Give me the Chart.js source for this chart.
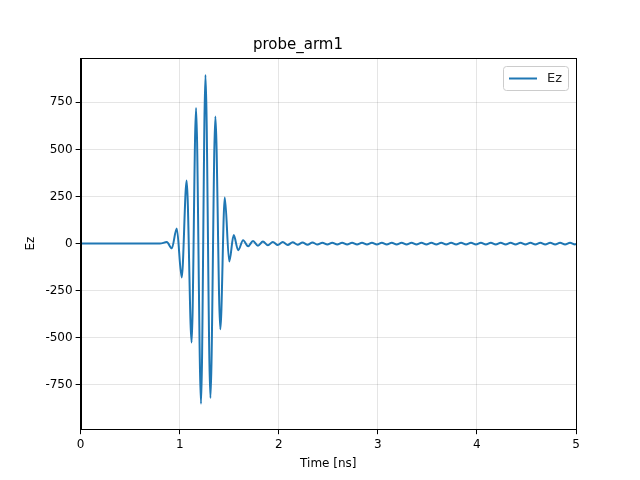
<!DOCTYPE html>
<html><head><meta charset="utf-8">
<script src="https://cdn.jsdelivr.net/npm/chart.js"></script>
<style>html,body{margin:0;padding:0;background:#fff}#w{width:640px;height:480px}</style>
</head><body><div id="w"><canvas id="c"></canvas></div>
<script>
const seriesLabel = "Ez";
const chartTitle = "probe_arm1";
const xTitle = "Time [ns]";
const yTitle = "Ez";
const yTicks = [-750,-500,-250,0,250,500,750];
const xTicks = [0,1,2,3,4,5];
const times = [0,0.80,0.87,0.92,0.97,1.02,1.07,1.12,1.165,1.215,1.26,1.31,1.36,1.41,1.455,1.50,1.545,1.59,
1.64,1.69,1.74,1.79,1.84,1.89,1.94,1.99,2.04,2.09,2.14,2.19,2.24,2.29,2.34,2.39,2.44,2.49,2.54,2.59,2.64,2.69,2.74,2.79,2.84,2.89,2.94,2.99,3.04,3.09,3.14,3.19,3.24,3.29,3.34,3.39,3.44,3.49,3.54,3.59,3.64,3.69,3.74,3.79,3.84,3.89,3.94,3.99,4.04,4.09,4.14,4.19,4.24,4.29,4.34,4.39,4.44,4.49,4.54,4.59,4.64,4.69,4.74,4.79,4.84,4.89,4.94,4.99,5.0];
const ezValues = [0,0,8,-25,80,-180,335,-525,720,-850,895,-820,675,-455,245,-95,45,-35,
18,-14,14,-11,11,-9,9,-8,8,-7,7,-6,6,-6,6,-5,5,-5,5,-5,5,-5,5,-5,5,-5,5,-5,5,-5,5,-5,5,-5,5,-5,5,-5,5,-5,5,-5,5,-5,5,-5,5,-5,5,-5,5,-5,5,-5,5,-5,5,-5,5,-5,5,-5,5,-5,5,-5,5,-5,0];
const pts = times.map((t,i)=>({x:t,y:ezValues[i]}));
const legendPlugin = {id:'lg',afterDraw(ch){const c=ch.ctx,a=ch.chartArea;
c.save();c.strokeStyle='#000';c.lineWidth=1;c.strokeRect(Math.round(a.left)+0.5,Math.round(a.top)+0.5,Math.round(a.right-a.left),Math.round(a.bottom-a.top));
const x=a.right-73,y=a.top+8,w=65,h=24;
c.fillStyle='rgba(255,255,255,0.8)';c.strokeStyle='#ccc';c.beginPath();c.roundRect(x+0.5,y+0.5,w,h,3);c.fill();c.stroke();
c.strokeStyle='#1f77b4';c.lineWidth=2;c.beginPath();c.moveTo(x+6,y+12.5);c.lineTo(x+34,y+12.5);c.stroke();
c.fillStyle='#222';c.font='13px "DejaVu Sans"';c.textBaseline='middle';c.fillText(ch.data.datasets[0].label,x+44,y+13);c.restore();}};
new Chart(document.getElementById('c'),{type:'line',
data:{datasets:[{label:seriesLabel,data:pts,borderColor:'#1f77b4',borderWidth:2,pointRadius:0,cubicInterpolationMode:'monotone',fill:false}]},
options:{responsive:true,maintainAspectRatio:false,animation:false,
layout:{padding:{left:20,right:64,top:16,bottom:5}},
plugins:{legend:{display:false},tooltip:{enabled:false},
title:{display:true,text:chartTitle,font:{family:'DejaVu Sans',size:15,weight:'normal'},color:'#000',padding:{top:20,bottom:4}}},
scales:{x:{type:'linear',min:0,max:5,afterBuildTicks:s=>{s.ticks=xTicks.map(v=>({value:v}))},
ticks:{font:{family:'DejaVu Sans',size:12},color:'#000'},grid:{color:'rgba(0,0,0,0.1)',tickColor:'#000',tickLength:5},border:{color:'#000'},
title:{display:true,text:xTitle,font:{family:'DejaVu Sans',size:12},color:'#000',padding:{top:2}}},
y:{min:-985,max:985,afterBuildTicks:s=>{s.ticks=yTicks.map(v=>({value:v}))},
ticks:{font:{family:'DejaVu Sans',size:12},color:'#000'},grid:{color:'rgba(0,0,0,0.1)',tickColor:'#000',tickLength:5},border:{color:'#000'},
title:{display:true,text:yTitle,font:{family:'DejaVu Sans',size:12},color:'#000'}}}},
plugins:[legendPlugin]});
</script></body></html>
